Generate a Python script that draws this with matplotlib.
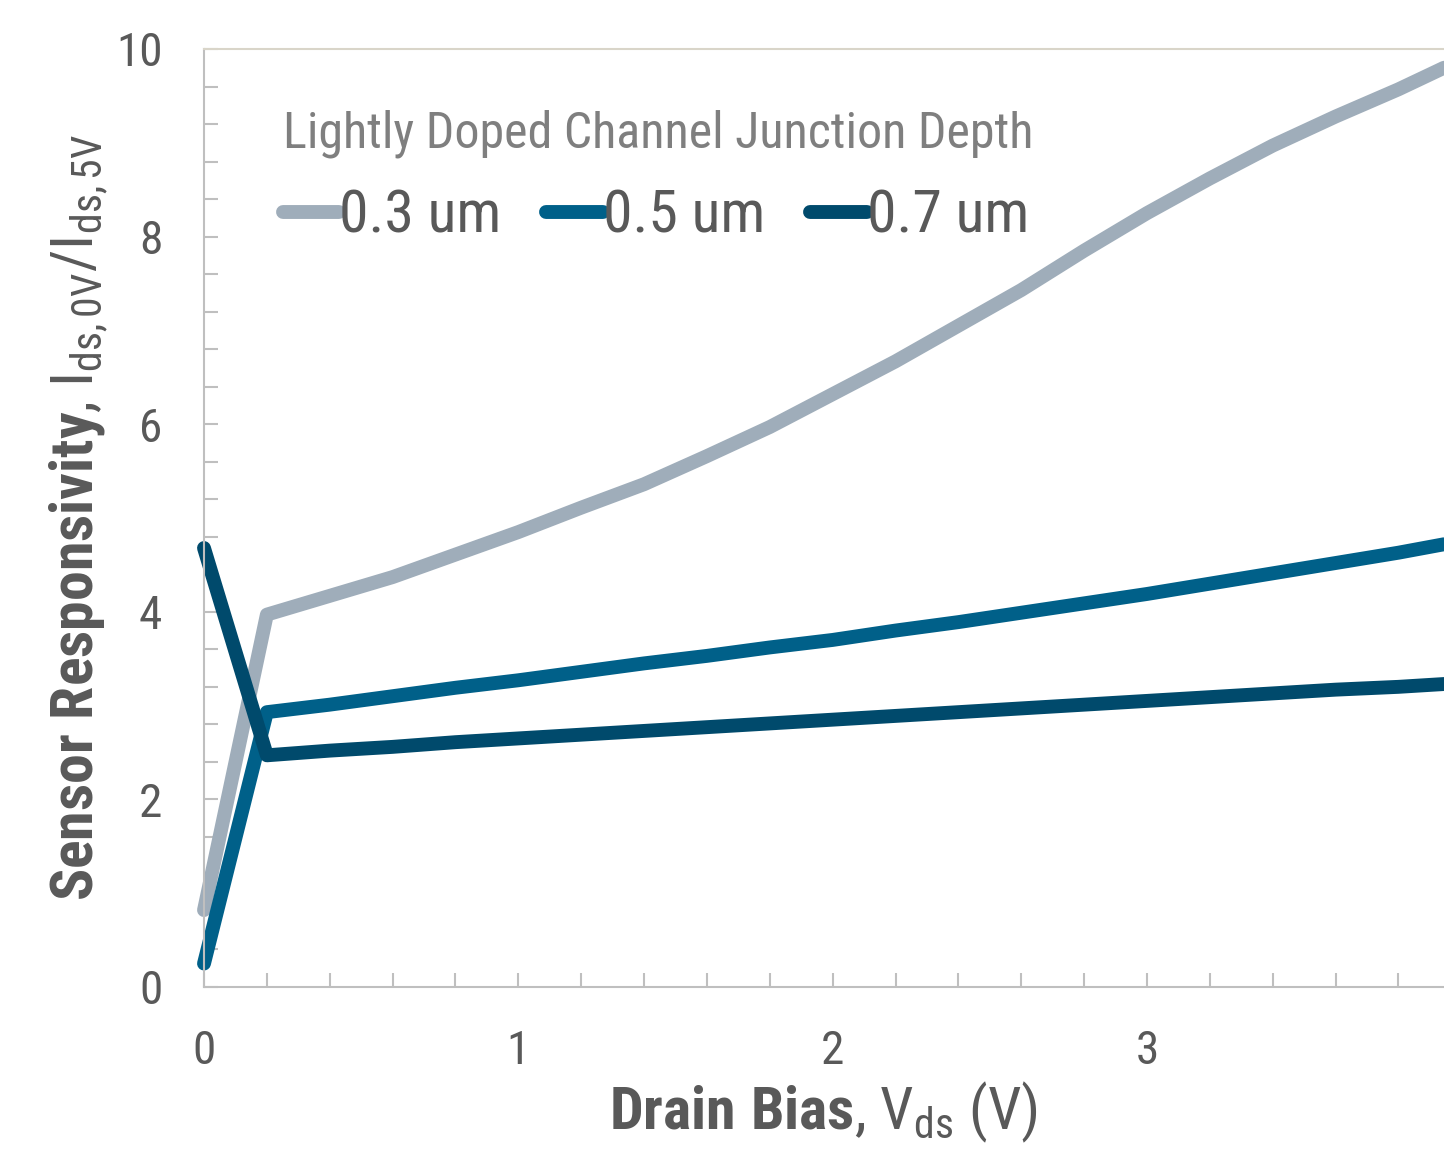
import numpy as np
import matplotlib
matplotlib.use("Agg")
import matplotlib.pyplot as plt
from matplotlib import font_manager as fm
from matplotlib.ticker import MultipleLocator

# pick a narrow sans, like Arial Narrow
have = set(f.name for f in fm.fontManager.ttflist)
prefer = ['Liberation Sans Narrow', 'Arial Narrow', 'Roboto Condensed',
          'Archivo Narrow', 'PT Sans Narrow', 'Liberation Sans']
font = next((f for f in prefer if f in have), 'DejaVu Sans')
plt.rcParams['font.family'] = [font, 'DejaVu Sans']
plt.rcParams['mathtext.fontset'] = 'custom'
plt.rcParams['mathtext.rm'] = font
plt.rcParams['mathtext.it'] = font
plt.rcParams['mathtext.bf'] = font + ':bold'

# drain bias (V)
vds = [0.0, 0.2, 0.4, 0.6, 0.8, 1.0, 1.2, 1.4, 1.6, 1.8, 2.0, 2.2, 2.4,
       2.6, 2.8, 3.0, 3.2, 3.4, 3.6, 3.8, 3.945]
# responsivity for each junction depth
resp_03 = [0.82, 3.97, 4.17, 4.37, 4.61, 4.85, 5.11, 5.36, 5.66, 5.97, 6.32,
           6.67, 7.05, 7.43, 7.85, 8.25, 8.62, 8.97, 9.28, 9.57, 9.80]
resp_05 = [0.25, 2.93, 3.01, 3.10, 3.19, 3.27, 3.36, 3.45, 3.53, 3.62, 3.70,
           3.80, 3.89, 3.99, 4.09, 4.19, 4.30, 4.41, 4.52, 4.63, 4.72]
resp_07 = [4.68, 2.47, 2.52, 2.56, 2.61, 2.65, 2.69, 2.73, 2.77, 2.81, 2.85,
           2.89, 2.93, 2.97, 3.01, 3.05, 3.09, 3.13, 3.17, 3.20, 3.23]
labels = ["0.3 um", "0.5 um", "0.7 um"]
colors = ["#9fadba", "#006089", "#004a6c"]

txt = "#595959"
grid_gray = "#bfbfbf"

fig = plt.figure(figsize=(14.44, 11.51), dpi=100)
ax = fig.add_axes([204/1444, 1 - 987/1151, 1 - 204/1444, (987 - 49)/1151])

for y, lab, c in zip([resp_03, resp_05, resp_07], labels, colors):
    ax.plot(vds, y, color=c, lw=10, label=lab, solid_capstyle='round',
            solid_joinstyle='round', clip_on=False)

ax.set_xlim(0, 3.945)
ax.set_ylim(0, 10)
ax.xaxis.set_major_locator(MultipleLocator(1))
ax.xaxis.set_minor_locator(MultipleLocator(0.2))
ax.yaxis.set_major_locator(MultipleLocator(2))
ax.yaxis.set_minor_locator(MultipleLocator(0.4))

ax.tick_params(which='both', direction='in', length=10, width=1.5,
               color=grid_gray, labelcolor=txt, labelsize=34, pad=30)
ax.tick_params(axis='x', which='both', top=False)
ax.tick_params(axis='y', which='both', right=False)

ax.spines['right'].set_visible(False)
ax.spines['top'].set_color("#d9d5c9")
ax.spines['left'].set_color(grid_gray)
ax.spines['bottom'].set_color(grid_gray)
for s in ['top', 'left', 'bottom']:
    ax.spines[s].set_linewidth(1.5)

ax.set_xlabel(r"$\mathbf{Drain\ Bias}$, V$_{\rm ds}$ (V)", fontsize=43,
              color=txt, labelpad=5)
ax.set_ylabel(r"$\mathbf{Sensor\ Responsivity}$, I$_{\rm ds,0V}$/I$_{\rm ds,5V}$",
              fontsize=43, color=txt, labelpad=4)

leg = ax.legend(title="Lightly Doped Channel Junction Depth", ncol=3,
                loc='upper left', bbox_to_anchor=(0.02, 0.993), frameon=False,
                fontsize=43, title_fontsize=36, handlelength=0.95,
                handletextpad=0.0, columnspacing=0.75, alignment='left')
leg.get_title().set_color("#7f7f7f")
for t in leg.get_texts():
    t.set_color(txt)

fig.savefig("out.png", dpi=100)
